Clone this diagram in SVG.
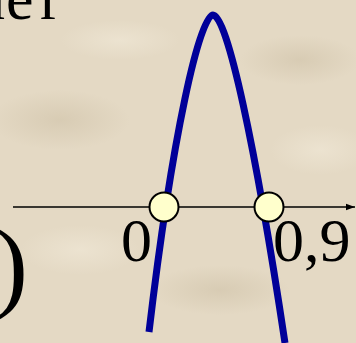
<svg xmlns="http://www.w3.org/2000/svg" width="356" height="343" viewBox="0 0 356 343">
  <defs>
    <style>
      .txt { font-family: "Liberation Serif", "Times New Roman", serif; fill: #000; }
      .pt { fill: #FFFFCC; stroke: #000; stroke-width: 2; }
      .axis { stroke: #000; stroke-width: 1.6; fill: none; }
      .curve { stroke: #000099; stroke-width: 7; fill: none; stroke-linecap: butt; }
    </style>
    <marker id="arrow" markerWidth="10" markerHeight="8" refX="9" refY="4" orient="auto" markerUnits="userSpaceOnUse">
      <path d="M0,0.8 L9,4 L0,7.2 Z" fill="#000"/>
    </marker>
    <radialGradient id="patch" cx="50%" cy="50%" r="50%">
      <stop offset="0" stop-color="#C9BBA0" stop-opacity="0.45"/>
      <stop offset="1" stop-color="#C9BBA0" stop-opacity="0"/>
    </radialGradient>
    <radialGradient id="light" cx="50%" cy="50%" r="50%">
      <stop offset="0" stop-color="#F1E9D8" stop-opacity="0.6"/>
      <stop offset="1" stop-color="#F1E9D8" stop-opacity="0"/>
    </radialGradient>
  </defs>

  <g id="background">
    <rect x="0" y="0" width="356" height="343" fill="#E4D9C4"/>
    <ellipse cx="60" cy="120" rx="70" ry="30" fill="url(#patch)"/>
    <ellipse cx="300" cy="60" rx="60" ry="25" fill="url(#patch)"/>
    <ellipse cx="220" cy="290" rx="70" ry="25" fill="url(#patch)"/>
    <ellipse cx="120" cy="40" rx="60" ry="20" fill="url(#light)"/>
    <ellipse cx="80" cy="250" rx="60" ry="25" fill="url(#light)"/>
    <ellipse cx="320" cy="150" rx="50" ry="25" fill="url(#light)"/>
  </g>

  <g id="connectors">
    <line id="axis" class="axis" x1="13" y1="207" x2="355" y2="207" marker-end="url(#arrow)"/>
  </g>

  <g id="parabola">
    <path class="curve" d="M149,332 C172.6,132 200,15 213,15 C227,15 255,143 285,343"/>
  </g>

  <g id="root-left">
    <circle class="pt" cx="164" cy="207" r="14.5"/>
  </g>
  <g id="root-right">
    <circle class="pt" cx="269" cy="207" r="14.5"/>
  </g>

  <g id="label-0">
    <text class="txt" x="121" y="261" font-size="62">0</text>
  </g>
  <g id="label-09">
    <text class="txt" x="273" y="261" font-size="62">0,9</text>
  </g>
  <g id="top-text">
    <text class="txt" font-size="62" x="-26 6 40" y="19">ner</text>
  </g>
  <g id="paren">
    <text class="txt" x="-6" y="299" font-size="102">)</text>
  </g>
</svg>
